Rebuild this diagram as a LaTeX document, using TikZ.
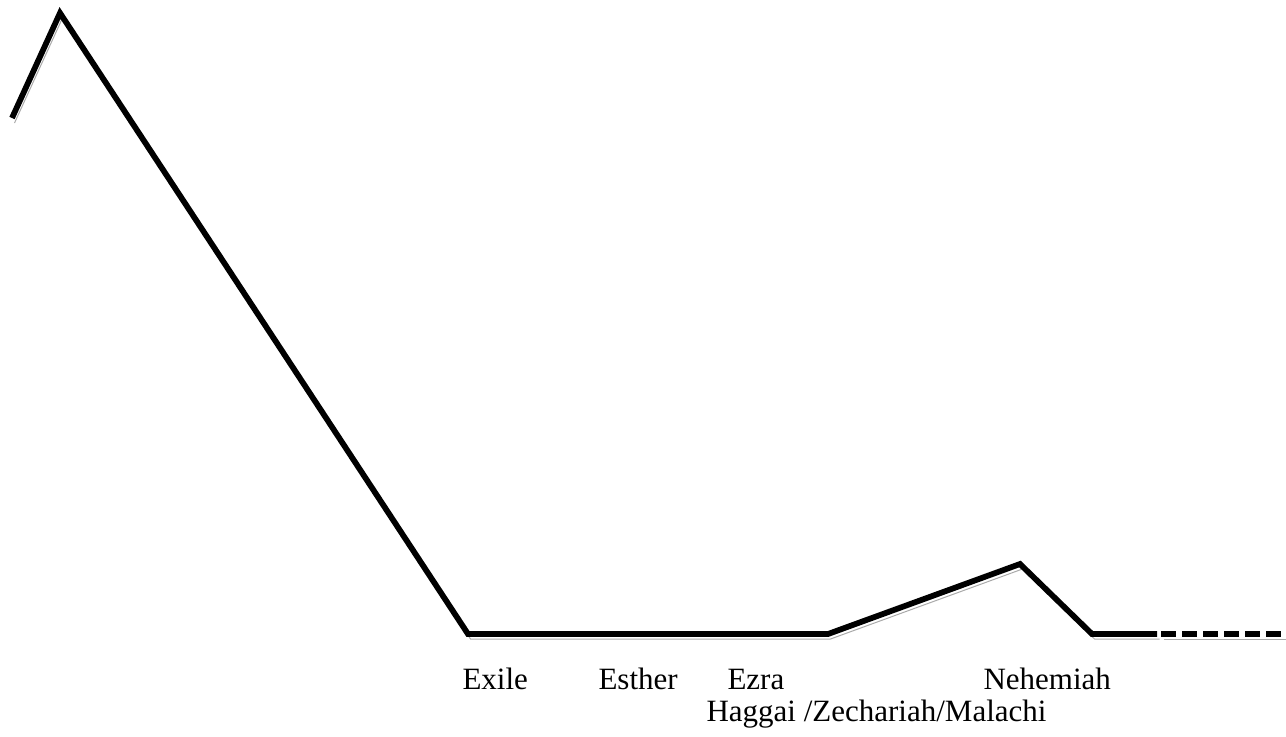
\documentclass[tikz,border=0pt]{standalone}
\usepackage{fontspec}
\setmainfont{Liberation Serif}
\usepackage{tikz}
\usetikzlibrary{positioning}

\begin{document}
\begin{tikzpicture}[
    line cap=butt,
    line join=miter,
    x=0.4pt,
    y=-0.4pt
]

% =========================================================
% Colors
% =========================================================
\definecolor{shadowgray}{RGB}{170,170,170}
\definecolor{inkblack}{RGB}{0,0,0}

% =========================================================
% Styles
% =========================================================
\tikzset{
    dropshadow/.style={preaction={draw=shadowgray,
        transform canvas={shift={(1.0pt,-2.0pt)}}}},
    trendline/.style={inkblack,line width=2.3pt,dropshadow},
    futureline/.style={inkblack,line width=2.3pt,dash pattern=on 6pt off 2.4pt,dropshadow},
    booklabel/.style={anchor=base west,inner sep=0pt,font=\fontsize{12.4}{14}\selectfont}
}

% frame of the page
\useasboundingbox (0,0) rectangle (1286,736);

% =========================================================
% Points of the line
% =========================================================
\coordinate (start)   at (12,118);
\coordinate (peak)    at (60,13);
\coordinate (exile)   at (468,634);
\coordinate (rise)    at (828,634);
\coordinate (nehpeak) at (1020,564);
\coordinate (nehend)  at (1092,634);
\coordinate (solidend) at (1157,634);
\coordinate (dashstart) at (1161,634);
\coordinate (lineend) at (1290,634);

% line with its shadow
\draw[trendline] (start) -- (peak) -- (exile) -- (rise)
    -- (nehpeak) -- (nehend) -- (solidend);
\draw[futureline] (dashstart) -- (lineend);

% =========================================================
% Labels
% =========================================================
\node[booklabel] (exilelbl)  at (462,689) {Exile};
\node[booklabel] (estherlbl) at (598,689) {Esther};
\node[booklabel] (ezralbl)   at (727,689) {Ezra};
\node[booklabel] (nehlbl)    at (983,689) {Nehemiah};
\node[booklabel] (prophlbl)  at (706,721) {Haggai /Zechariah/Malachi};

\end{tikzpicture}
\end{document}
